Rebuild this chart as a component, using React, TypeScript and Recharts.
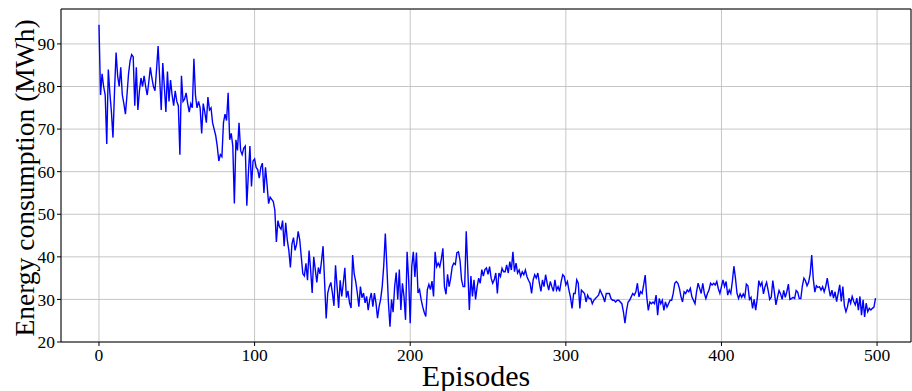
import React from 'react';
import { LineChart, Line, XAxis, YAxis, CartesianGrid, ReferenceLine } from 'recharts';

const xTicks = [0, 100, 200, 300, 400, 500];
const yTicks = [20, 30, 40, 50, 60, 70, 80, 90];

const energy: number[] = [
  94.5, 78, 83, 80, 78, 66.5, 84, 78.5, 74, 68,
  79, 88, 82.5, 80, 84.5, 78, 76, 73.5, 78, 83,
  86, 87.5, 87, 75.5, 84.5, 74.5, 79, 82, 80, 82.5,
  80, 78, 81, 84.5, 82, 80, 79, 84, 89.5, 82,
  74.5, 85.5, 80, 74, 83.5, 76.5, 81.5, 78, 75.5, 79,
  76.5, 75.5, 64, 82.5, 76.5, 77, 78.5, 76, 74, 76,
  75, 86.5, 78, 75, 76.5, 75, 69, 76, 74, 71.5,
  77.5, 74.5, 75, 71.5, 70, 68.5, 66, 62.5, 64, 63.5,
  71.5, 73.5, 72, 78.5, 67.5, 69, 66, 52.5, 67.5, 65,
  71.5, 65, 64, 65.5, 66, 52, 59.5, 66, 56.5, 62.5,
  63, 61, 60.5, 58.5, 61, 62, 55, 61, 57, 52.5,
  54, 53.5, 53, 51, 43.5, 48.5, 47, 46.5, 48.5, 42.5,
  48, 44, 41.5, 37.5, 43, 44.5, 41.5, 43, 46, 44,
  40, 36, 35.5, 38.5, 34.5, 41.5, 37, 31.5, 40, 37,
  34, 37.5, 36, 39, 42.5, 34, 25.5, 31.5, 33, 34,
  31.5, 28.5, 38, 33, 28, 34.5, 30.7, 33.8, 37.4, 30.4,
  32, 29.2, 28, 40.4, 36, 34.2, 31.5, 28.3, 33, 30.4,
  31.5, 29.2, 30.7, 27.5, 30, 31.5, 28.3, 31.5, 29.2, 25.6,
  28.3, 30, 33, 38, 45.5, 37.7, 29.2, 23.6, 30, 27,
  33, 36.3, 30, 37, 27.5, 33.8, 30.7, 25.2, 41.2, 34.6,
  24.4, 37.7, 41.2, 35.3, 41, 31.5, 32.3, 30, 28.3, 27,
  26, 32.3, 33.5, 32.3, 34.3, 30.7, 41.2, 37.7, 38.5, 37.7,
  39.5, 42, 33, 31.2, 35.9, 33, 35, 37.7, 38.5, 38.2,
  41, 41.2, 39.2, 34.6, 33, 33, 46, 37, 27.5, 35.5,
  30.7, 34.6, 30, 33, 35, 33.8, 37, 35.5, 37, 37.4,
  35.9, 37.7, 35, 33.8, 34.6, 36.2, 31.4, 36.2, 35.4, 37.3,
  36.5, 36.5, 38.1, 36.2, 38.9, 36.9, 41.2, 36.5, 38.5, 36.2,
  36.9, 35.4, 36.5, 35.8, 36.9, 35.4, 34.5, 33.8, 31.4, 34.6,
  35.8, 35, 36.2, 33.8, 31.9, 34.6, 33, 35.8, 33.8, 32.2,
  34.2, 33, 31.9, 34.6, 32.2, 33, 31.9, 34.2, 35.8, 35.4,
  33.4, 34.2, 32.2, 30.5, 27.9, 31.4, 31.4, 34.6, 33.8, 27.9,
  32.2, 31.8, 31.4, 29.4, 31, 30.2, 30.2, 29, 29.8, 30.2,
  30.6, 31, 32.2, 31.4, 30.6, 29.4, 31.4, 31.4, 31.4, 30.2,
  29.8, 29.8, 29.4, 29.8, 29.8, 29.4, 29, 27.1, 24.4, 27.4,
  29.4, 29.8, 30.6, 31.4, 31, 31.8, 33.8, 30.6, 31.8, 31.4,
  33.4, 35.7, 30.6, 27.4, 29.4, 29, 29.4, 29, 31, 26.3,
  30.2, 29, 29.8, 27.4, 29.4, 28.2, 29, 29.8, 29.8, 31.4,
  33.8, 34.2, 33.8, 32.6, 30.6, 29.4, 31.8, 31.4, 32.2, 31.8,
  32.6, 30.6, 29.8, 29, 31.8, 33.8, 32.6, 31.4, 33.8, 31.4,
  30.2, 31.4, 32.2, 33.8, 33.4, 33.8, 33.4, 34.2, 32.5, 31.4,
  33, 34.6, 33, 34.2, 31, 32.2, 31.4, 34.2, 37.8, 35,
  31.4, 30.2, 31.3, 30.5, 31.3, 30.5, 33.6, 33.2, 30, 30.5,
  27.9, 30, 27.5, 30.2, 34.4, 33.2, 34, 31.3, 33, 34,
  32.1, 30, 30.5, 34.4, 31.7, 28.7, 30.5, 32.1, 31.3, 30,
  32.1, 30.5, 31.8, 33.6, 30, 30.2, 30.5, 30.2, 32.1, 31.7,
  30.2, 30.2, 33.2, 35, 34.4, 33.2, 34, 36, 40.4, 34.8,
  31.7, 33.2, 32.8, 33, 32.2, 33, 31.8, 33, 35, 32.6,
  30.7, 32.2, 30.3, 31.8, 29.5, 31.4, 33.4, 29.5, 33, 28.5,
  27.1, 28.3, 30.3, 29.1, 30.7, 29.5, 28.7, 30.3, 27.5, 30.7,
  26.3, 29.9, 25.9, 29.1, 27.1, 27.9, 27.5, 27.9, 28.2, 30.3,
];

const data = energy.map((v, i) => ({ ep: i, energy: v }));

const FONT = '"Liberation Serif", "Times New Roman", serif';
const X_MIN = -24.4;
const X_MAX = 521.8;
const Y_MIN = 20;
const Y_MAX = 98.2;

const YLabel = () => (
  <text
    x={24}
    y={178}
    transform="rotate(-90 24 178)"
    textAnchor="middle"
    dominantBaseline="central"
    fontFamily={FONT}
    fontSize={27.5}
    fill="#000"
  >
    Energy consumption (MWh)
  </text>
);

const XLabel = () => (
  <text x={476} y={386} textAnchor="middle" fontFamily={FONT} fontSize={30} fill="#000">
    Episodes
  </text>
);

export default function App() {
  return (
    <div style={{ position: 'absolute', left: 0, top: 0, width: 912, height: 391, background: '#fff' }}>
      <LineChart width={912} height={391} data={data} margin={{ top: 9, right: 1, bottom: 0, left: 0 }}>
        <CartesianGrid stroke="#c0c0c0" strokeWidth={0.9} />
        <XAxis
          dataKey="ep"
          type="number"
          domain={[X_MIN, X_MAX]}
          allowDataOverflow
          ticks={xTicks}
          height={49}
          tickSize={4}
          tickMargin={3}
          stroke="#000"
          axisLine={{ stroke: '#000' }}
          tickLine={{ stroke: '#000' }}
          tick={{ fontFamily: FONT, fontSize: 17.5, fill: '#000' }}
          label={XLabel}
        />
        <YAxis
          type="number"
          domain={[Y_MIN, Y_MAX]}
          allowDataOverflow
          ticks={yTicks}
          width={61}
          tickSize={4}
          tickMargin={2}
          stroke="#000"
          axisLine={{ stroke: '#000' }}
          tickLine={{ stroke: '#000' }}
          tick={{ fontFamily: FONT, fontSize: 17.5, fill: '#000' }}
          label={YLabel}
        />
        <ReferenceLine y={Y_MAX} stroke="#000" strokeWidth={1} />
        <ReferenceLine x={X_MAX} stroke="#000" strokeWidth={1} />
        <Line
          type="linear"
          dataKey="energy"
          stroke="#0000ff"
          strokeWidth={1.4}
          dot={false}
          isAnimationActive={false}
        />
      </LineChart>
    </div>
  );
}
